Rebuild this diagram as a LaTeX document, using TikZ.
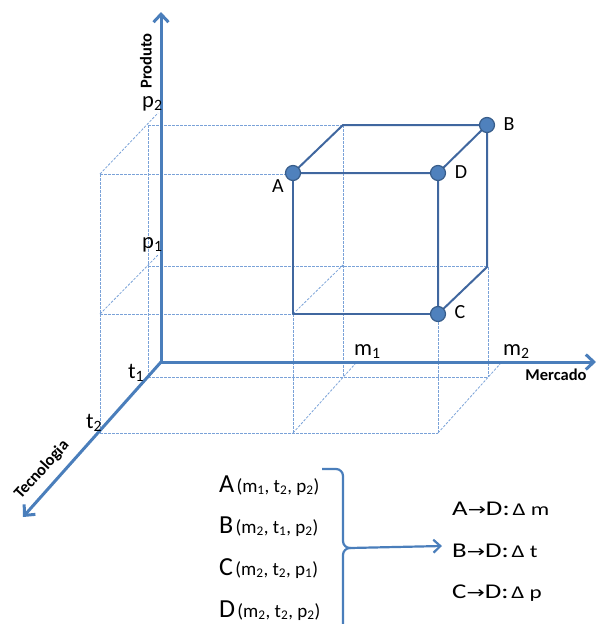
\documentclass[tikz,border=0pt]{standalone}
\usepackage{graphicx}
\usepackage{fontspec}
\setmainfont{Carlito}
\newfontfamily\symfont{DejaVu Sans}
\usetikzlibrary{arrows.meta}
\definecolor{axisblue}{HTML}{4A7EBB}
\definecolor{cubeblue}{HTML}{40679F}
\definecolor{dashblue}{HTML}{7AA2D8}
\definecolor{dotfill}{HTML}{4F81BD}
\definecolor{dotline}{HTML}{385D8A}
\newcommand{\arrowrow}[3]{\scalebox{1.28}[1]{{\fontsize{21}{21}\selectfont #1{\symfont\fontsize{17}{17}\selectfont →}#2:} {\fontsize{18}{18}\selectfont Δ #3}}}
\newcommand{\listrow}[4]{{\fontsize{26}{26}\selectfont #1} {\fontsize{19}{19}\selectfont (m\textsubscript{#2}, t\textsubscript{#3}, p\textsubscript{#4})}}
\begin{document}
\begin{tikzpicture}[x=1pt,y=-1pt,
  axis/.style={draw=axisblue, line width=3pt, -{Straight Barb[length=8pt,width=15pt]}},
  cube/.style={draw=cubeblue, line width=2pt, line join=round},
  gridline/.style={draw=dashblue, line width=0.8pt, dash pattern=on 2.5pt off 1.5pt},
  dot/.style={circle, fill=dotfill, draw=dotline, line width=1.2pt, minimum size=15pt, inner sep=0pt},
  vlabel/.style={font=\fontsize{20}{20}\selectfont, inner sep=0pt},
  tick/.style={font=\fontsize{22.5}{22.5}\selectfont, inner sep=0pt, anchor=base west},
  axlabel/.style={font=\bfseries\fontsize{16.5}{16.5}\selectfont, inner sep=0pt},
  rowtxt/.style={inner sep=0pt, anchor=base west},
  bracearrow/.style={draw=axisblue, line width=2.2pt},
]
\useasboundingbox (0,0) rectangle (596,624);

% dashed grid (back plane t1)
\draw[gridline] (148,125) -- (148,377);
\draw[gridline] (148,125) -- (343,125);
\draw[gridline] (148,266) -- (487,266);
\draw[gridline] (148,377) -- (488,377);
\draw[gridline] (343,125) -- (343,377);
\draw[gridline] (488,267) -- (488,377);
% front plane t2
\draw[gridline] (100,174) -- (100,433);
\draw[gridline] (100,174) -- (293,174);
\draw[gridline] (100,314) -- (293,314);
\draw[gridline] (100,433) -- (438,433);
\draw[gridline] (293,314) -- (293,433);
\draw[gridline] (438,314) -- (438,433);
% diagonals
\draw[gridline] (100,174) -- (158,113);
\draw[gridline] (100,314) -- (158,255);
\draw[gridline] (293,314) -- (343,265);
\draw[gridline] (293,433) -- (355,364);
\draw[gridline] (438,433) -- (500,364);

% axes
\coordinate (O) at (161,362);
\coordinate (Ptip) at (161,12);
\coordinate (Mtip) at (596,362);
\coordinate (Ttip) at (23,517);
\draw[axis] (O) -- (Ptip);
\draw[axis] (O) -- (Mtip);
\draw[axis] (O) -- (Ttip);

% cube
\coordinate (A) at (293,173);
\coordinate (D) at (438,173);
\coordinate (B) at (487,125);
\coordinate (C) at (438,314);
\coordinate (BTL) at (343,125);
\coordinate (BBR) at (487,267);
\coordinate (FBL) at (293,314);
\draw[cube] (A) -- (D) -- (B) -- (BTL) -- (A);
\draw[cube] (B) -- (BBR) -- (C) -- (D);
\draw[cube] (A) -- (FBL) -- (C);
\node[dot] (dA) at (A) {};
\node[dot] (dD) at (D) {};
\node[dot] (dB) at (B) {};
\node[dot] (dC) at (C) {};

\node[vlabel] (lA) at (278,186) {A};
\node[vlabel] (lB) at (509,124) {B};
\node[vlabel] (lD) at (461,172) {D};
\node[vlabel] (lC) at (460,312) {C};

% ticks
\node[tick] (p2) at (142,107) {p\textsubscript{2}};
\node[tick] (p1) at (142,248) {p\textsubscript{1}};
\node[tick] (t1) at (128,378) {t\textsubscript{1}};
\node[tick] (t2) at (86,428) {t\textsubscript{2}};
\node[tick] (m1) at (354,355) {m\textsubscript{1}};
\node[tick] (m2) at (503,355) {m\textsubscript{2}};

% axis labels
\node[axlabel, rotate=90] (prod) at (146,61) {Produto};
\node[axlabel] (merc) at (556,375) {Mercado};
\node[axlabel, rotate=48] (tec) at (42,470) {Tecnologia};

% list
\node[rowtxt] (rA) at (219,492) {\listrow{A}{1}{2}{2}};
\node[rowtxt] (rB) at (219,533) {\listrow{B}{2}{1}{2}};
\node[rowtxt] (rC) at (219,575) {\listrow{C}{2}{2}{1}};
\node[rowtxt] (rD) at (219,617) {\listrow{D}{2}{2}{2}};

\node[rowtxt] (AD) at (452,515) {\arrowrow{A}{D}{m}};
\node[rowtxt] (BD) at (452,557) {\arrowrow{B}{D}{t}};
\node[rowtxt] (CD) at (452,598) {\arrowrow{C}{D}{p}};

% brace and arrow
\coordinate (cusp) at (350,548);
\coordinate (atip) at (442,546);
\draw[bracearrow] (322,469) -- (336,469) to[out=0,in=90] (343,476) -- (343,541) to[out=-90,in=180] (cusp)
  to[out=180,in=90] (343,555) -- (343,630);
\draw[bracearrow, -{Straight Barb[length=7pt,width=13pt]}] (cusp) -- (atip);
\end{tikzpicture}
\end{document}
